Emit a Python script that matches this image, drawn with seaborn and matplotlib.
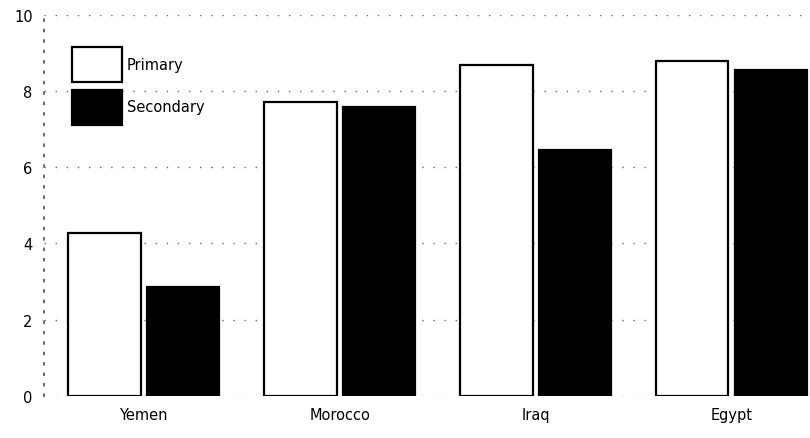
import seaborn as sns
import matplotlib.pyplot as plt
import pandas as pd

# Données
countries = ['Yemen', 'Morocco', 'Iraq', 'Egypt']
primary = [4.28, 7.72, 8.69, 8.79]
secondary = [2.86, 7.59, 6.46, 8.56]

df = pd.DataFrame({
    'Country': countries * 2,
    'Level': ['Primary'] * 4 + ['Secondary'] * 4,
    'Value': primary + secondary,
})

sns.set_theme(style="white")
plt.rcParams['font.family'] = ['DejaVu Sans']
plt.rcParams['text.color'] = 'black'
plt.rcParams['xtick.color'] = 'black'
plt.rcParams['ytick.color'] = 'black'

fig = plt.figure(figsize=(8.1, 4.39), dpi=100)
ax = fig.add_axes([0.054, 0.096, 0.946, 0.868])

sns.barplot(data=df, x='Country', y='Value', hue='Level',
            palette={'Primary': 'white', 'Secondary': 'black'},
            edgecolor='black', linewidth=1.6, width=0.8, gap=0.08,
            saturation=1, ax=ax)

ax.set_ylim(0, 10)
ax.set_xlim(-0.51, 3.4)
ax.set_yticks([0, 2, 4, 6, 8, 10])
ax.set_xlabel('')
ax.set_ylabel('')
ax.tick_params(axis='both', length=0, labelsize=10.5, pad=8)
ax.yaxis.grid(True, linestyle=(0, (1, 7)), color='#666666', linewidth=1)
ax.set_axisbelow(True)
for side in ['top', 'right', 'bottom']:
    ax.spines[side].set_visible(False)
ax.spines['left'].set_linestyle((0, (1, 5)))
ax.spines['left'].set_color('#555555')

ax.legend(loc='upper left', bbox_to_anchor=(0.02, 0.95), frameon=False,
          handlelength=3.4, handleheight=3.3, handletextpad=0.35,
          labelspacing=0.55, fontsize=10.5)

fig.savefig('out.png', dpi=100)
